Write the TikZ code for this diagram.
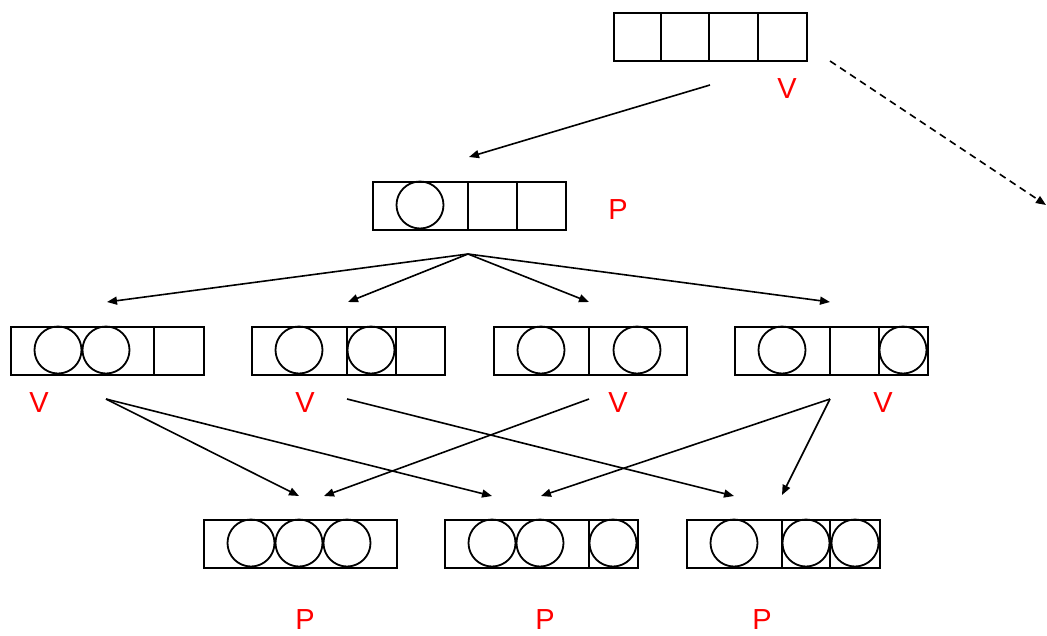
\documentclass[tikz,border=0pt]{standalone}
\usepackage{fontspec}
\setmainfont{Liberation Sans}
\usetikzlibrary{arrows.meta}
\begin{document}
\begin{tikzpicture}[x=1pt,y=-1pt,
  cellrow/.style={draw, line width=1.8pt, rectangle, minimum width=193pt, minimum height=48pt, inner sep=0pt, anchor=north west},
  divider/.style={line width=1.8pt},
  token/.style={line width=1.8pt},
  tag/.style={text=red, font=\fontsize{29}{30}\selectfont, inner sep=0pt},
  link/.style={line width=1.6pt, -{Triangle[length=10pt,width=8pt]}},
  hint/.style={link, dash pattern=on 7pt off 5pt}]
\useasboundingbox (0,0) rectangle (1047,635);

% arrays of four slots
\node[cellrow] (a0) at (613,12) {};
\node[cellrow] (a1) at (372,181) {};
\node[cellrow] (b1) at (10,326) {};
\node[cellrow] (b2) at (251,326) {};
\node[cellrow] (b3) at (493,326) {};
\node[cellrow] (b4) at (734,326) {};
\node[cellrow] (c1) at (203,519) {};
\node[cellrow] (c2) at (444,519) {};
\node[cellrow] (c3) at (686,519) {};

% slot dividers
\foreach \x in {661,709,758} \draw[divider] (\x,12) -- (\x,60);
\foreach \x in {468,517} \draw[divider] (\x,181) -- (\x,229);
\foreach \x in {154,347,396,589,830,879} \draw[divider] (\x,326) -- (\x,374);
\foreach \x in {589,782,830} \draw[divider] (\x,519) -- (\x,567);

% tokens held in the slots
\foreach \x in {420} \draw[token] (\x,205) circle (23.5);
\foreach \x in {58,106,299,371,541,637,782,903} \draw[token] (\x,350) circle (23.5);
\foreach \x in {251,299,347,492,540,613,734,806,855} \draw[token] (\x,543) circle (23.5);

% labels
\node[tag] (la0) at (787,89) {V};
\node[tag] (la1) at (618,210) {P};
\node[tag] (lb1) at (39,403) {V};
\node[tag] (lb2) at (305,403) {V};
\node[tag] (lb3) at (618,403) {V};
\node[tag] (lb4) at (883,403) {V};
\node[tag] (lc1) at (305,620) {P};
\node[tag] (lc2) at (545,620) {P};
\node[tag] (lc3) at (762,620) {P};

% connector ends
\coordinate (s0) at (710,85);
\coordinate (t1) at (469,157);
\coordinate (d0) at (830,61);
\coordinate (d1) at (1046,205);
\coordinate (s1) at (468,254);
\coordinate (tb1) at (107,302);
\coordinate (tb2) at (348,302);
\coordinate (tb3) at (589,302);
\coordinate (tb4) at (830,302);
\coordinate (sb1) at (106,399);
\coordinate (sb2) at (347,399);
\coordinate (sb3) at (589,399);
\coordinate (sb4) at (830,399);
\coordinate (tc1a) at (299,496);
\coordinate (tc1b) at (324,496);
\coordinate (tc2a) at (492,496);
\coordinate (tc2b) at (541,496);
\coordinate (tc3a) at (734,496);
\coordinate (tc3b) at (782,495);

% connectors
\draw[link] (s0) -- (t1);
\draw[hint] (d0) -- (d1);
\foreach \t in {tb1,tb2,tb3,tb4} \draw[link] (s1) -- (\t);
\draw[link] (sb1) -- (tc1a);
\draw[link] (sb1) -- (tc2a);
\draw[link] (sb2) -- (tc3a);
\draw[link] (sb3) -- (tc1b);
\draw[link] (sb4) -- (tc2b);
\draw[link] (sb4) -- (tc3b);
\end{tikzpicture}
\end{document}
